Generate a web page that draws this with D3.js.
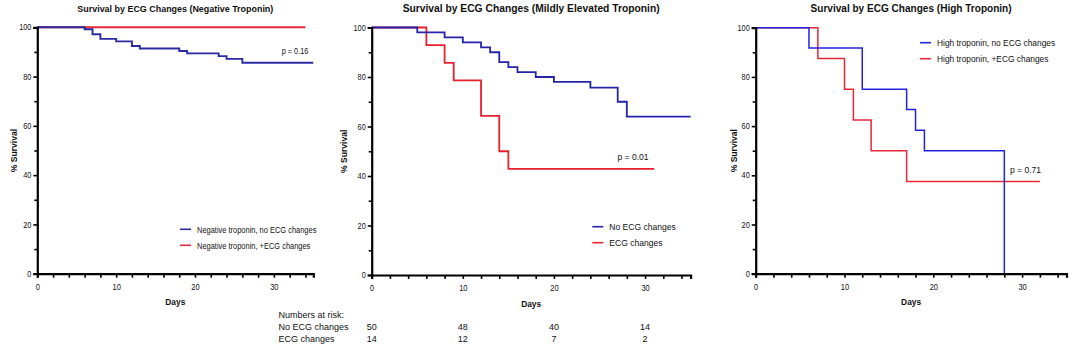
<!DOCTYPE html>
<html>
<head>
<meta charset="utf-8">
<script src="https://cdn.jsdelivr.net/npm/d3@7"></script>
<style>
  html, body { margin: 0; padding: 0; background: #fff; }
  svg { display: block; }
  text { font-family: "Liberation Sans", Arial, Helvetica, sans-serif; fill: #111; }
</style>
</head>
<body>
<svg id="chart" width="1084" height="355"></svg>
<script>
// ---------------- DATA ----------------
const titles = [
  "Survival by ECG Changes (Negative Troponin)",
  "Survival by ECG Changes (Mildly Elevated Troponin)",
  "Survival by ECG Changes (High Troponin)"
];
const pValues = ["p = 0.16", "p = 0.01", "p = 0.71"];
const yTicks = [0, 20, 40, 60, 80, 100];
const xTicks = [0, 10, 20, 30];

// Panel 1: Negative troponin
const p1BlueDays = [0, 6, 7, 8, 10, 12, 13, 18, 19, 23, 24, 26, 35];
const p1BlueSurv = [100, 99.2, 97.2, 95.3, 94.3, 92.4, 91.4, 90.4, 89.4, 88.3, 87.2, 85.6, 85.6];
const p1RedDays = [0, 34];
const p1RedSurv = [100, 100];
const p1Legend = ["Negative troponin, no ECG changes", "Negative troponin, +ECG changes"];

// Panel 2: Mildly elevated troponin
const p2BlueDays = [0, 5, 8, 10, 12, 13, 14, 15, 16, 18, 20, 24, 27, 28, 35];
const p2BlueSurv = [100, 98, 96, 94, 92, 90, 86, 84, 82, 80, 78, 75.7, 70, 64, 64];
const p2RedDays = [0, 6, 8, 9, 12, 14, 15, 31];
const p2RedSurv = [100, 92.9, 85.7, 78.6, 64.3, 50, 42.9, 42.9];
const p2Legend = ["No ECG changes", "ECG changes"];

// Panel 3: High troponin
const p3BlueDays = [0, 6, 12, 17, 18, 19, 28];
const p3BlueSurv = [100, 91.7, 75, 66.7, 58.3, 50, 0];
const p3RedDays = [0, 7, 10, 11, 13, 17, 32];
const p3RedSurv = [100, 87.5, 75, 62.5, 50, 37.5, 37.5];
const p3Legend = ["High troponin, no ECG changes", "High troponin, +ECG changes"];

// Numbers at risk (panel 2)
const riskDays = [0, 10, 20, 30];
const riskGroups = ["No ECG changes", "ECG changes"];
const riskNoECG = [50, 48, 40, 14];
const riskECG = [14, 12, 7, 2];

// ---------------- LAYOUT ----------------
const svg = d3.select("#chart");
const panels = [
  { x0: 37.3, x1: 313.3, y0: 273.7, y1: 27.3, blue: "#2b2ba0", red: "#e5283a", lw: 1.9,
    bd: p1BlueDays, bs: p1BlueSurv, rd: p1RedDays, rs: p1RedSurv, legend: p1Legend,
    titleW: 196, titleFs: 9.8, pX: 295, pY: 54, pFs: 8.5, pNarrow: 0.86,
    legX: 180, legY: [229.3, 245.3], legFs: 8.9, legNarrow: 0.84, ylabX: 14 },
  { x0: 371.7, x1: 690.6, y0: 275, y1: 27.5, blue: "#2424a8", red: "#e8202e", lw: 1.8,
    bd: p2BlueDays, bs: p2BlueSurv, rd: p2RedDays, rs: p2RedSurv, legend: p2Legend,
    titleW: 257, titleFs: 10.6, pX: 633, pY: 159.5, pFs: 9, pNarrow: 0.95,
    legX: 592.3, legY: [226.7, 242.7], legFs: 9.2, legNarrow: 0.93, ylabX: 344 },
  { x0: 755.7, x1: 1066.5, y0: 273.7, y1: 27.7, blue: "#2323dd", red: "#e5283a", lw: 1.5,
    bd: p3BlueDays, bs: p3BlueSurv, rd: p3RedDays, rs: p3RedSurv, legend: p3Legend,
    titleW: 201, titleFs: 10.6, pX: 1025.5, pY: 172.5, pFs: 9, pNarrow: 0.95,
    legX: 920, legY: [42.7, 58.7], legFs: 9, legNarrow: 0.93, ylabX: 734 }
];

function squeeze(sel, factor) {
  sel.each(function () {
    const w = this.getComputedTextLength();
    if (w > 0) {
      this.setAttribute("textLength", (w * factor).toFixed(2));
      this.setAttribute("lengthAdjust", "spacingAndGlyphs");
    }
  });
}

panels.forEach((p, i) => {
  const x = d3.scaleLinear().domain([0, 35]).range([p.x0, p.x1]);
  const y = d3.scaleLinear().domain([0, 100]).range([p.y0, p.y1]);
  p.x = x;
  const g = svg.append("g");

  // Title
  g.append("text")
    .attr("x", (p.x0 + p.x1) / 2).attr("y", 12)
    .attr("text-anchor", "middle")
    .style("font-weight", "bold").style("font-size", p.titleFs + "px")
    .attr("textLength", p.titleW).attr("lengthAdjust", "spacingAndGlyphs")
    .text(titles[i]);

  // Curves (red first, blue on top)
  const line = d3.line().x(d => x(d[0])).y(d => y(d[1])).curve(d3.curveStepAfter);
  g.append("path")
    .datum(d3.zip(p.rd, p.rs))
    .attr("d", line).attr("fill", "none")
    .attr("stroke", p.red).attr("stroke-width", p.lw);
  g.append("path")
    .datum(d3.zip(p.bd, p.bs))
    .attr("d", line).attr("fill", "none")
    .attr("stroke", p.blue).attr("stroke-width", p.lw);

  // Y axis
  const ya = g.append("g").attr("transform", `translate(${p.x0},0)`)
    .call(d3.axisLeft(y).tickValues(d3.range(0, 101, 10)).tickSize(4).tickPadding(2)
      .tickFormat(d => yTicks.includes(d) ? d : ""));
  ya.select(".domain").attr("stroke", "#000").attr("stroke-width", 2.2);
  ya.selectAll(".tick line").attr("stroke", "#000").attr("stroke-width", 1.6);
  ya.selectAll(".tick text").style("font-size", "8.3px").attr("fill", "#222")
    .style("font-family", '"Liberation Sans", Arial, sans-serif');
  squeeze(ya.selectAll(".tick text"), 0.88);
  ya.selectAll(".tick line").filter(d => !yTicks.includes(d)).attr("x2", -3);

  // X axis
  const xa = g.append("g").attr("transform", `translate(0,${p.y0})`)
    .call(d3.axisBottom(x).tickValues(d3.range(0, 35, 2)).tickSize(4).tickPadding(6)
      .tickFormat(d => xTicks.includes(d) ? d : ""));
  xa.select(".domain").attr("stroke", "#000").attr("stroke-width", 2.2);
  xa.selectAll(".tick line").attr("stroke", "#000").attr("stroke-width", 1.6);
  xa.selectAll(".tick text").style("font-size", "8.8px").attr("fill", "#222")
    .style("font-family", '"Liberation Sans", Arial, sans-serif');
  squeeze(xa.selectAll(".tick text"), 0.85);

  // Axis titles
  const dl = g.append("text")
    .attr("x", (p.x0 + p.x1) / 2).attr("y", p.y0 + 31.5)
    .attr("text-anchor", "middle")
    .style("font-weight", "bold").style("font-size", "9.5px").text("Days");
  squeeze(dl, 0.88);
  const yl = g.append("text")
    .attr("transform", `translate(${p.ylabX + 3},${(p.y0 + p.y1) / 2}) rotate(-90)`)
    .attr("text-anchor", "middle")
    .style("font-weight", "bold").style("font-size", "9.5px").text("% Survival");
  squeeze(yl, 0.9);

  // p value
  const pt = g.append("text")
    .attr("x", p.pX).attr("y", p.pY).attr("text-anchor", "middle")
    .style("font-size", p.pFs + "px").text(pValues[i]);
  squeeze(pt, p.pNarrow);

  // Legend
  [p.blue, p.red].forEach((c, k) => {
    g.append("line")
      .attr("x1", p.legX).attr("x2", p.legX + 11)
      .attr("y1", p.legY[k]).attr("y2", p.legY[k])
      .attr("stroke", c).attr("stroke-width", 1.6);
    const lt = g.append("text")
      .attr("x", p.legX + 17).attr("y", p.legY[k] + 3.2)
      .style("font-size", p.legFs + "px").text(p.legend[k]);
    squeeze(lt, p.legNarrow);
  });
});

// Numbers at risk table
const x2 = panels[1].x;
const rt = svg.append("g").style("font-size", "9px");
rt.append("text").attr("x", 278.5).attr("y", 317.5).text("Numbers at risk:");
riskGroups.forEach((name, k) => {
  rt.append("text").attr("x", 278.5).attr("y", 330 + k * 12).text(name);
});
[riskNoECG, riskECG].forEach((vals, k) => {
  rt.selectAll(null).data(vals).enter().append("text")
    .attr("x", (d, j) => x2(riskDays[j]))
    .attr("y", 330 + k * 12)
    .attr("text-anchor", "middle")
    .text(d => d);
});
</script>
</body>
</html>
